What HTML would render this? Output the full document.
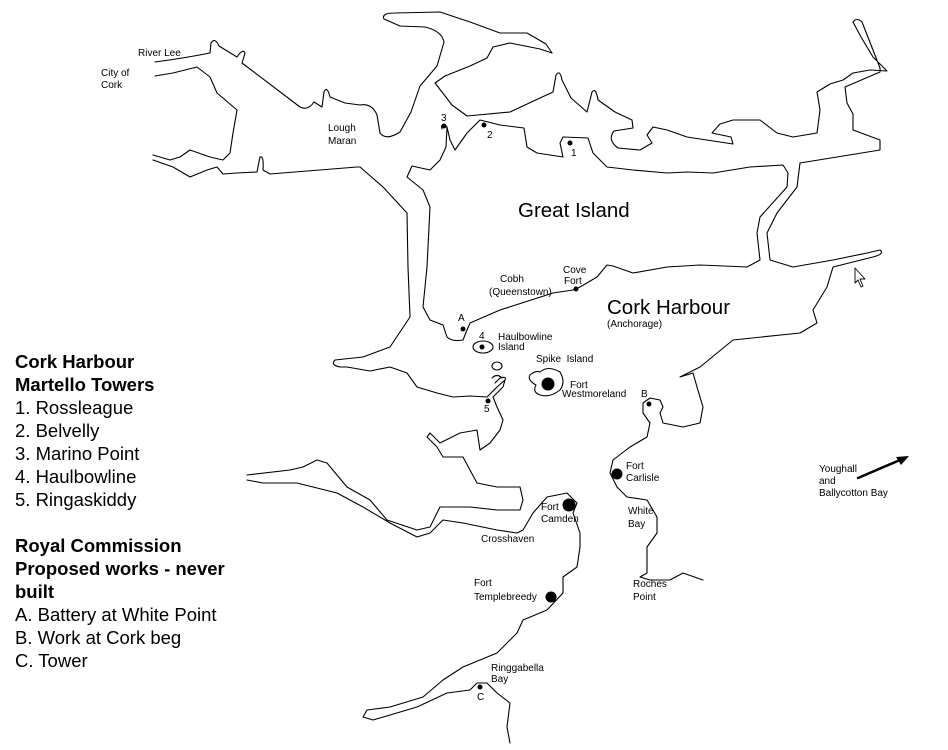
<!DOCTYPE html>
<html><head><meta charset="utf-8"><style>
body{margin:0;background:#fff;}
svg{display:block}
text{font-family:"Liberation Sans",Arial,sans-serif;fill:#000}
.s{font-size:10px}
.l{font-size:20.5px}
.g{font-size:18.5px}
.gb{font-size:18.5px;font-weight:bold}
</style></head><body>
<svg width="948" height="750" viewBox="0 0 948 750" xmlns="http://www.w3.org/2000/svg">
<g fill="none" stroke="#000" stroke-width="1.1" stroke-linejoin="round" stroke-linecap="round">
<path d="M155,62 C170,60 195,56 210,53 L211,43 Q215,37 219,46 L237,57 Q243,48 245,53 L242,63 L300,107 Q308,111 314,102 L322,107 L324,92 Q327,85 330,97 L345,103 L360,105 Q372,103 377,115 L380,133 Q386,141 400,132 L411,112 L420,86 L437,66 L444,42 Q442,31 425,27 L400,26 L384,19 Q381,13 395,13 L440,12 L470,22 L500,33 L527,33 L546,44 L552,53"/>
<path d="M552,53 L540,49 L510,43 L493,47 L487,58 L470,66 L445,76 L435,83 L442,92 L452,105 L467,116 L510,112 L540,98 L553,92 L556,75 Q560,69 562,80 L571,98 L587,112 L592,92 Q596,87 598,100 L615,112 L632,120 L633,128 L614,131 Q607,140 618,148 L640,150 L652,143 L647,135 L653,127 L667,130 L687,137 L720,142 L733,144 L731,137 L712,133 L720,124 L733,120 L760,120 L777,133 L793,137 L817,133 L820,110 L817,92 L830,84 L843,80 L853,73 L870,70 L887,71 L873,57 L861,37 L853,22 Q857,17 862,22 L873,50 L880,68 L880,72 L845,87 L847,103 L853,114 L853,130 L880,140 L880,150 L800,163"/>
<path d="M447,127 L446,147 L440,160 L430,170 L412,166 L407,177 L423,190 L430,207 L427,267 L423,307 L430,320 L443,325 L447,337 Q452,342 463,340 L467,330 L470,323 L500,310 L553,293 L573,290 L580,287 L597,277 L607,265 L613,266 L633,273 L667,267 L700,265 L747,267 L760,260 L757,233 L760,217 L787,187 L788,173 L783,165 L750,167 L713,173 L687,172 L667,173 L633,170 L607,167 L593,153 L588,138 L563,137 L560,143 L563,157 L537,153 L527,147 L524,128 L500,125 L480,120 L467,133 L455,150 L450,140 L447,127 Q440,122 442,129"/>
<path d="M800,163 L797,187 L777,213 L767,233 L770,260 L793,267 L833,260 L867,253 L880,250 Q885,254 873,257 L833,267 L827,287 L813,310 L817,323 L800,333 L733,340 L700,367 L680,377 L693,373 L697,387 L703,407 L700,423 L683,427 L663,423 L660,413 L663,407 L660,400 L650,398 L643,403 L643,413 L650,423 L647,437 L630,447 L613,460 L610,473 L617,487 L627,497 L647,500 L657,517 L657,533 L647,547 L647,573 L640,577 L650,580 L670,580 L683,573 L703,580"/>
<path d="M357,167 L360,167 L383,187 L407,213 L408,267 L410,317 L390,347 L363,357 L335,360 Q330,365 340,367 L347,367 L370,371 L390,367 L407,373 L417,387 L437,393 L453,397 L470,396 L487,397 L497,387 L505,380 Q507,376 500,378 L495,383"/>
<path d="M153,160 L173,167 L190,177 L207,170 L217,167 L223,174 L237,173 L257,172 L260,157 Q264,155 263,170 L270,174 L357,167"/>
<path d="M155,76 L173,73 L197,67 L210,77 L217,93 L237,110 L233,133 L230,153 L223,160 L210,157 L190,150 L180,157 L170,160 L153,155"/>
<path d="M505,380 L503,387 L493,397 L497,407 L503,420 L500,430 L490,443 L480,450 L477,430 L460,433 L440,443 L430,433 L427,437 L437,447 L443,457 L463,457 L470,470 L477,483 L497,487 L520,487 L523,500 L520,510 L497,510 L470,507 L440,507 L430,527 L417,530 L387,520 L370,500 L347,487 L327,463 L317,460 L303,467 L290,470 L247,475"/>
<path d="M247,480 L263,483 L297,483 L313,487 L337,493 L363,507 L390,523 L417,537 L430,533 L443,520 L463,523 L497,530 L517,533 L523,530 L533,513 L547,497 L567,493 L577,503 L573,513 L580,533 L580,547 L577,567 L563,577 L563,593 L547,610 L523,620 L517,633 L497,653 L480,660 L463,667 L443,680 L423,697 L390,707 L367,710 L363,717 L373,720 L417,707 L447,693 L470,690 L477,683 L487,683 L497,693 L510,703 L507,727 L510,743"/>
<ellipse cx="483" cy="347" rx="10" ry="6"/>
<ellipse cx="497" cy="366" rx="5" ry="4"/>
<path d="M492,378 Q497,373 502,378"/>
<path d="M530,375 Q536,370 540,372 Q548,365 560,372 Q566,382 560,390 Q550,398 540,395 Q532,392 536,385 Q527,380 530,375 Z"/>
<line x1="858" y1="478" x2="900" y2="460" stroke-width="2.5"/>
<path d="M855,268 L855,283 L858,280 L861,287 L863,286 L860,279 L865,279 Z" stroke-width="0.9"/>
</g>
<polygon points="909,456 896,457 901,465" fill="#000"/>
<g fill="#000">
<circle cx="444" cy="126" r="2.5"/><circle cx="484" cy="125" r="2.5"/><circle cx="570" cy="143" r="2.5"/>
<circle cx="576" cy="289" r="2.5"/><circle cx="463" cy="329" r="2.5"/><circle cx="482" cy="347" r="2.5"/>
<circle cx="488" cy="401" r="2.5"/><circle cx="548" cy="384" r="6.5"/><circle cx="649" cy="404" r="2.5"/>
<circle cx="617" cy="474" r="5.5"/><circle cx="569" cy="505" r="6.5"/><circle cx="551" cy="597" r="5.5"/>
<circle cx="480" cy="687" r="2.5"/>
</g>
<text class="s" x="138" y="56">River Lee</text>
<text class="s" x="101" y="76">City of</text><text class="s" x="101" y="88">Cork</text>
<text class="s" x="328" y="131">Lough</text><text class="s" x="328" y="144">Maran</text>
<text class="s" x="441" y="121">3</text><text class="s" x="487" y="138">2</text><text class="s" x="571" y="156">1</text>
<text class="l" x="518" y="217">Great Island</text>
<text class="s" x="500" y="282">Cobh</text><text class="s" x="489" y="295">(Queenstown)</text>
<text class="s" x="563" y="273">Cove</text><text class="s" x="564" y="284">Fort</text>
<text class="l" x="607" y="314">Cork Harbour</text>
<text class="s" x="607" y="327">(Anchorage)</text>
<text class="s" x="458" y="321">A</text><text class="s" x="479" y="339">4</text>
<text class="s" x="498" y="340">Haulbowline</text><text class="s" x="498" y="350">Island</text>
<text class="s" x="536" y="362">Spike&#160;&#160;Island</text>
<text class="s" x="570" y="388">Fort</text><text class="s" x="562" y="397">Westmoreland</text>
<text class="s" x="641" y="397">B</text><text class="s" x="484" y="412">5</text>
<text class="s" x="626" y="469">Fort</text><text class="s" x="626" y="481">Carlisle</text>
<text class="s" x="541" y="510">Fort</text><text class="s" x="541" y="522">Camden</text>
<text class="s" x="628" y="514">White</text><text class="s" x="628" y="527">Bay</text>
<text class="s" x="481" y="542">Crosshaven</text>
<text class="s" x="474" y="586">Fort</text><text class="s" x="474" y="600">Templebreedy</text>
<text class="s" x="633" y="587">Roches</text><text class="s" x="633" y="600">Point</text>
<text class="s" x="491" y="671">Ringgabella</text><text class="s" x="491" y="682">Bay</text>
<text class="s" x="477" y="700">C</text>
<text class="s" x="819" y="472">Youghall</text><text class="s" x="819" y="484">and</text><text class="s" x="819" y="496">Ballycotton Bay</text>
<text class="gb" x="15" y="368">Cork Harbour</text>
<text class="gb" x="15" y="391">Martello Towers</text>
<text class="g" x="15" y="414">1. Rossleague</text>
<text class="g" x="15" y="437">2. Belvelly</text>
<text class="g" x="15" y="460">3. Marino Point</text>
<text class="g" x="15" y="483">4. Haulbowline</text>
<text class="g" x="15" y="506">5. Ringaskiddy</text>
<text class="gb" x="15" y="552">Royal Commission</text>
<text class="gb" x="15" y="575">Proposed works - never</text>
<text class="gb" x="15" y="598">built</text>
<text class="g" x="15" y="621">A. Battery at White Point</text>
<text class="g" x="15" y="644">B. Work at Cork beg</text>
<text class="g" x="15" y="667">C. Tower</text>
</svg>
</body></html>
